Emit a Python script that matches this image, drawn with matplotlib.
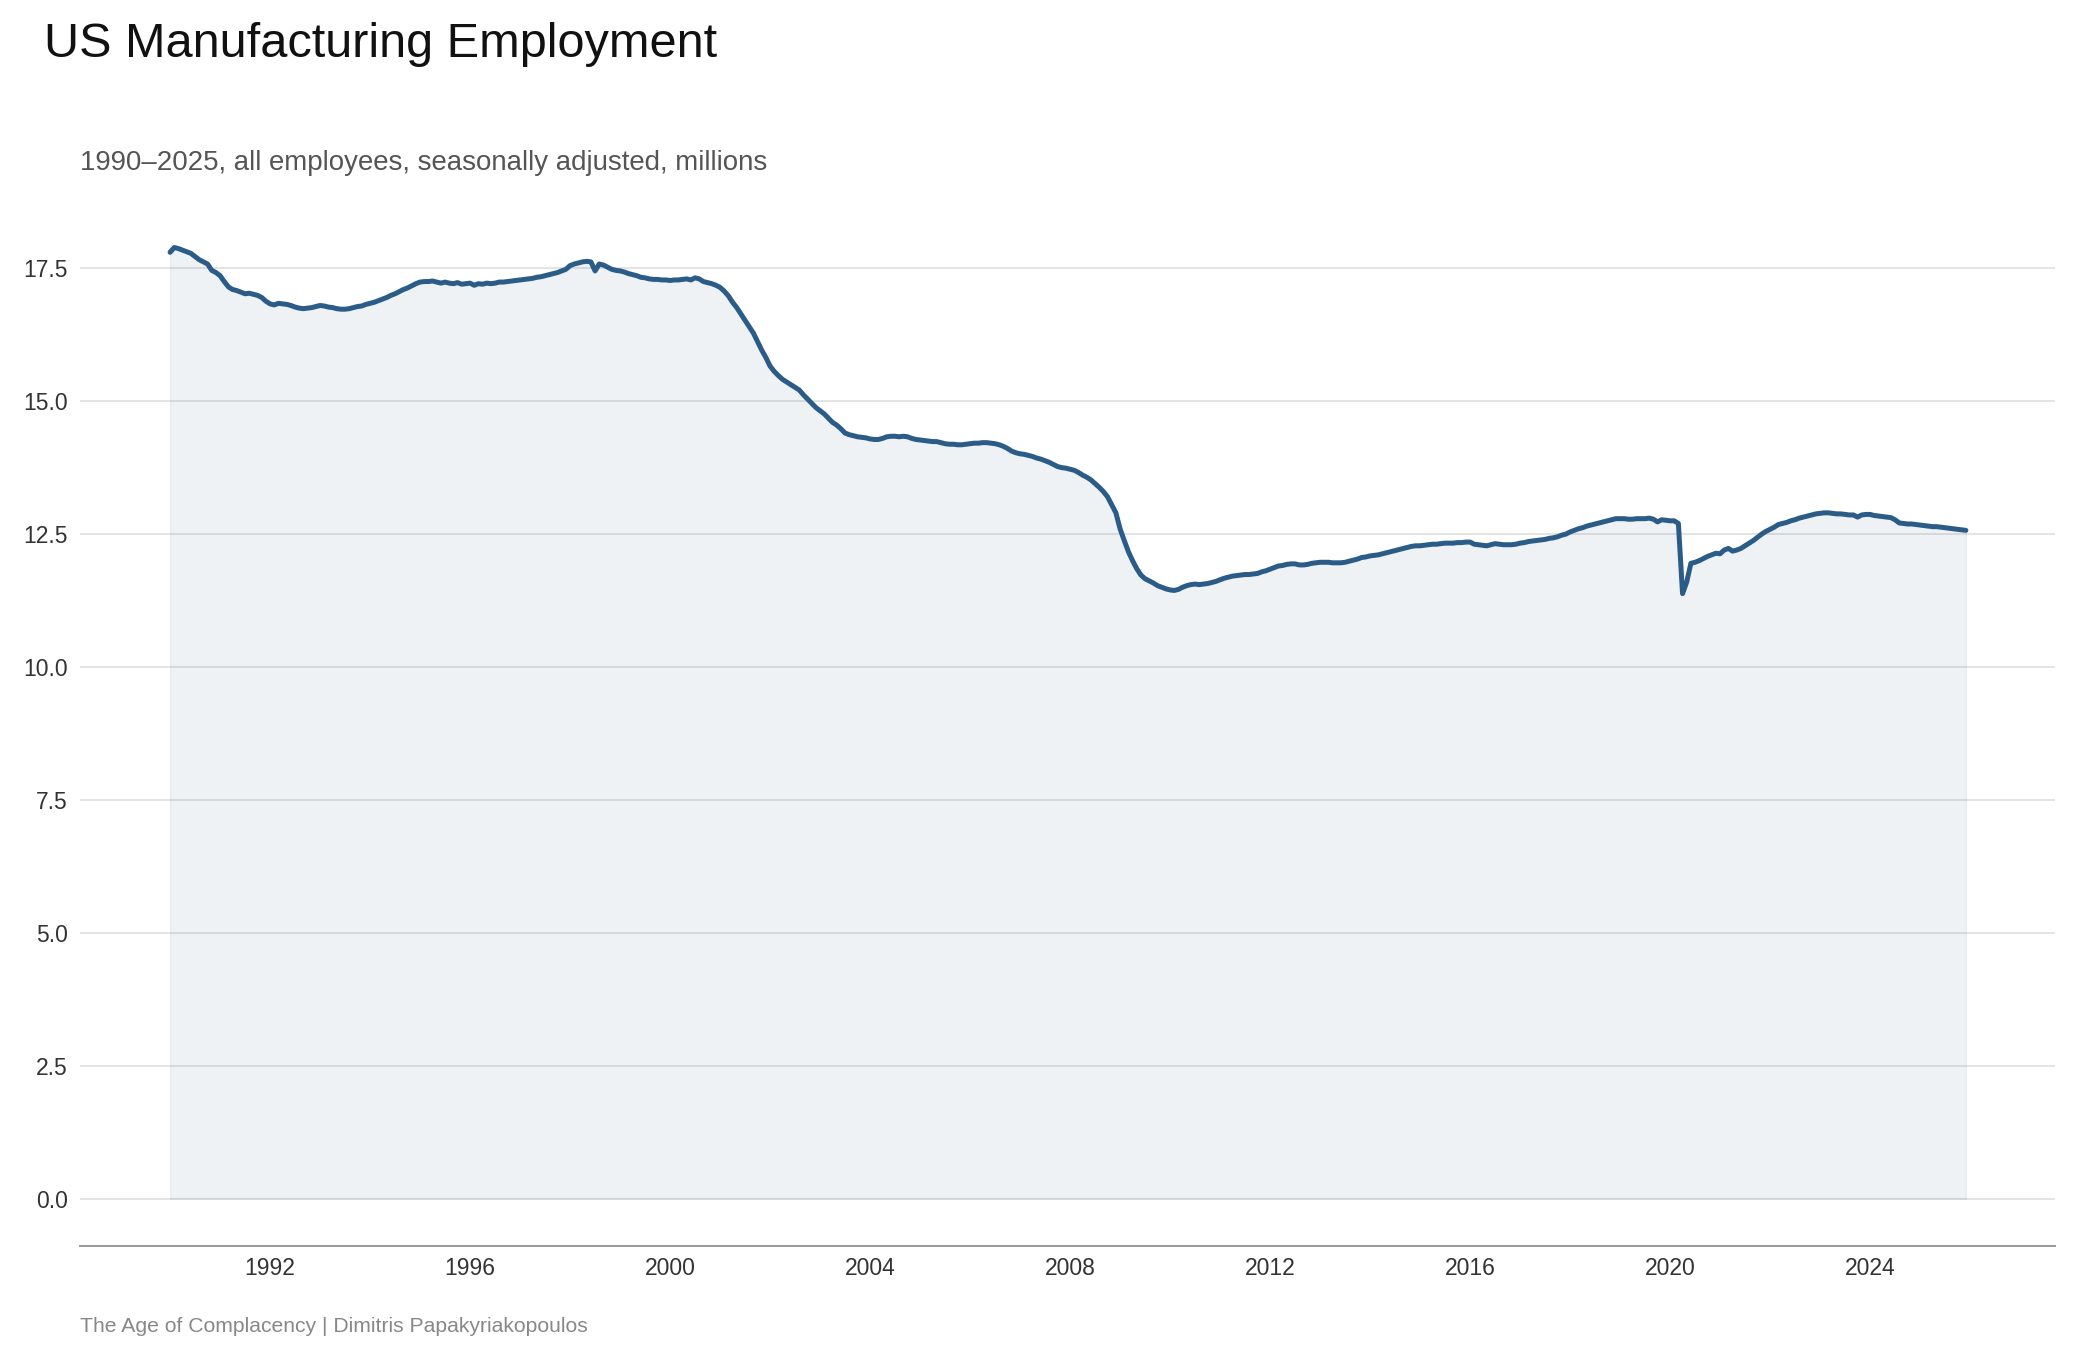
import matplotlib
matplotlib.use("Agg")
import matplotlib.pyplot as plt
import numpy as np

plt.rcParams['font.family'] = ['Liberation Sans', 'DejaVu Sans']

## Monthly values, millions (Jan 1990 - Dec 2025)

y1990 = [17.80, 17.89, 17.87, 17.84, 17.81, 17.78, 17.72, 17.66, 17.62, 17.58, 17.46, 17.42]
y1991 = [17.36, 17.25, 17.15, 17.10, 17.08, 17.05, 17.02, 17.03, 17.01, 16.99, 16.95, 16.88]
y1992 = [16.83, 16.81, 16.84, 16.83, 16.82, 16.80, 16.77, 16.75, 16.74, 16.75, 16.76, 16.78]
y1993 = [16.80, 16.79, 16.77, 16.76, 16.74, 16.73, 16.73, 16.74, 16.76, 16.78, 16.79, 16.82]
y1994 = [16.84, 16.86, 16.89, 16.92, 16.95, 16.99, 17.02, 17.06, 17.10, 17.13, 17.17, 17.21]
y1995 = [17.24, 17.25, 17.25, 17.26, 17.24, 17.22, 17.24, 17.22, 17.21, 17.23, 17.20, 17.21]
y1996 = [17.22, 17.18, 17.21, 17.20, 17.22, 17.21, 17.22, 17.24, 17.24, 17.25, 17.26, 17.27]
y1997 = [17.28, 17.29, 17.30, 17.31, 17.33, 17.34, 17.36, 17.38, 17.40, 17.42, 17.45, 17.48]
y1998 = [17.55, 17.58, 17.60, 17.62, 17.63, 17.62, 17.45, 17.58, 17.56, 17.52, 17.48, 17.46]
y1999 = [17.45, 17.43, 17.40, 17.38, 17.36, 17.33, 17.32, 17.30, 17.29, 17.29, 17.28, 17.28]
y2000 = [17.27, 17.28, 17.28, 17.29, 17.30, 17.28, 17.32, 17.30, 17.25, 17.23, 17.21, 17.18]
y2001 = [17.14, 17.07, 16.98, 16.86, 16.76, 16.64, 16.52, 16.40, 16.28, 16.12, 15.96, 15.82]
y2002 = [15.66, 15.56, 15.48, 15.41, 15.36, 15.31, 15.26, 15.21, 15.12, 15.04, 14.96, 14.88]
y2003 = [14.82, 14.76, 14.68, 14.60, 14.55, 14.48, 14.40, 14.37, 14.35, 14.33, 14.32, 14.31]
y2004 = [14.29, 14.28, 14.28, 14.30, 14.33, 14.34, 14.34, 14.33, 14.34, 14.33, 14.30, 14.28]
y2005 = [14.27, 14.26, 14.25, 14.24, 14.24, 14.22, 14.20, 14.19, 14.19, 14.18, 14.18, 14.19]
y2006 = [14.20, 14.21, 14.21, 14.22, 14.22, 14.21, 14.20, 14.18, 14.15, 14.11, 14.06, 14.03]
y2007 = [14.01, 14.00, 13.98, 13.96, 13.93, 13.91, 13.88, 13.85, 13.81, 13.77, 13.75, 13.74]
y2008 = [13.72, 13.70, 13.66, 13.61, 13.57, 13.52, 13.45, 13.38, 13.30, 13.20, 13.05, 12.90]
y2009 = [12.60, 12.38, 12.17, 12.00, 11.85, 11.73, 11.66, 11.62, 11.58, 11.53, 11.50, 11.47]
y2010 = [11.45, 11.44, 11.46, 11.50, 11.53, 11.55, 11.56, 11.55, 11.56, 11.57, 11.59, 11.61]
y2011 = [11.64, 11.67, 11.69, 11.71, 11.72, 11.73, 11.74, 11.74, 11.75, 11.76, 11.79, 11.81]
y2012 = [11.84, 11.87, 11.90, 11.91, 11.93, 11.94, 11.94, 11.92, 11.92, 11.93, 11.95, 11.96]
y2013 = [11.97, 11.97, 11.97, 11.96, 11.96, 11.96, 11.97, 11.99, 12.01, 12.03, 12.06, 12.07]
y2014 = [12.09, 12.10, 12.11, 12.13, 12.15, 12.17, 12.19, 12.21, 12.23, 12.25, 12.27, 12.28]
y2015 = [12.28, 12.29, 12.30, 12.31, 12.31, 12.32, 12.33, 12.33, 12.33, 12.34, 12.34, 12.35]
y2016 = [12.35, 12.31, 12.30, 12.29, 12.28, 12.30, 12.32, 12.31, 12.30, 12.30, 12.30, 12.31]
y2017 = [12.33, 12.34, 12.36, 12.37, 12.38, 12.39, 12.40, 12.42, 12.43, 12.45, 12.48, 12.50]
y2018 = [12.54, 12.57, 12.60, 12.62, 12.65, 12.67, 12.69, 12.71, 12.73, 12.75, 12.77, 12.79]
y2019 = [12.79, 12.79, 12.78, 12.78, 12.79, 12.79, 12.79, 12.80, 12.78, 12.73, 12.77, 12.76]
y2020 = [12.75, 12.75, 12.70, 11.38, 11.60, 11.95, 11.97, 12.00, 12.04, 12.08, 12.11, 12.14]
y2021 = [12.13, 12.20, 12.23, 12.18, 12.20, 12.23, 12.28, 12.33, 12.38, 12.44, 12.50, 12.55]
y2022 = [12.59, 12.63, 12.68, 12.70, 12.72, 12.75, 12.77, 12.80, 12.82, 12.84, 12.86, 12.88]
y2023 = [12.89, 12.90, 12.90, 12.89, 12.88, 12.88, 12.87, 12.86, 12.86, 12.82, 12.86, 12.87]
y2024 = [12.87, 12.85, 12.84, 12.83, 12.82, 12.81, 12.77, 12.71, 12.70, 12.69, 12.69, 12.68]
y2025 = [12.67, 12.66, 12.65, 12.64, 12.64, 12.63, 12.62, 12.61, 12.60, 12.59, 12.58, 12.57]

years = [y1990, y1991, y1992, y1993, y1994, y1995, y1996, y1997, y1998, y1999,
         y2000, y2001, y2002, y2003, y2004, y2005, y2006, y2007, y2008, y2009,
         y2010, y2011, y2012, y2013, y2014, y2015, y2016, y2017, y2018, y2019,
         y2020, y2021, y2022, y2023, y2024, y2025]

y_ticks = [0, 2.5, 5, 7.5, 10, 12.5, 15, 17.5]
x_ticks = [1992, 1996, 2000, 2004, 2008, 2012, 2016, 2020, 2024]

emp = np.concatenate([np.array(v) for v in years])
x = 1990 + np.arange(len(emp)) / 12.0

## Plot

line_col = '#2b5c88'

fig = plt.figure(figsize=(20.8, 13.6), dpi=100)
ax = fig.add_axes([0.0385, 0.0838, 0.9495, 0.769])

ax.fill_between(x, 0, emp, color=line_col, alpha=0.08)
ax.plot(x, emp, color=line_col, lw=3.6, solid_joinstyle='round',
        solid_capstyle='round', zorder=3)

ax.set_xlim(1988.2, 2027.7)
ax.set_ylim(-0.89, 18.78)
ax.set_yticks(y_ticks)
ax.set_yticklabels([f'{v:.1f}' for v in y_ticks])
ax.set_xticks(x_ticks)
ax.set_xticklabels([str(v) for v in x_ticks])

ax.grid(axis='y', color='#dcdcdc', lw=1.1)
ax.set_axisbelow(True)
for s in ['top', 'right', 'left']:
    ax.spines[s].set_visible(False)
ax.spines['bottom'].set_color('#999999')
ax.spines['bottom'].set_linewidth(1.4)
ax.tick_params(axis='both', length=0, labelsize=16.5, labelcolor='#333333')
ax.tick_params(axis='y', pad=9)
ax.tick_params(axis='x', pad=8)

## Texts

fig.text(0.021, 0.958, 'US Manufacturing Employment', fontsize=35,
         color='#111111', va='baseline', ha='left')
fig.text(0.0385, 0.875, '1990\u20132025, all employees, seasonally adjusted, millions',
         fontsize=19.9, color='#555555', va='baseline', ha='left')
fig.text(0.0385, 0.0206, 'The Age of Complacency | Dimitris Papakyriakopoulos',
         fontsize=15.2, color='#888888', va='baseline', ha='left')

fig.savefig('out.png', dpi=100)
